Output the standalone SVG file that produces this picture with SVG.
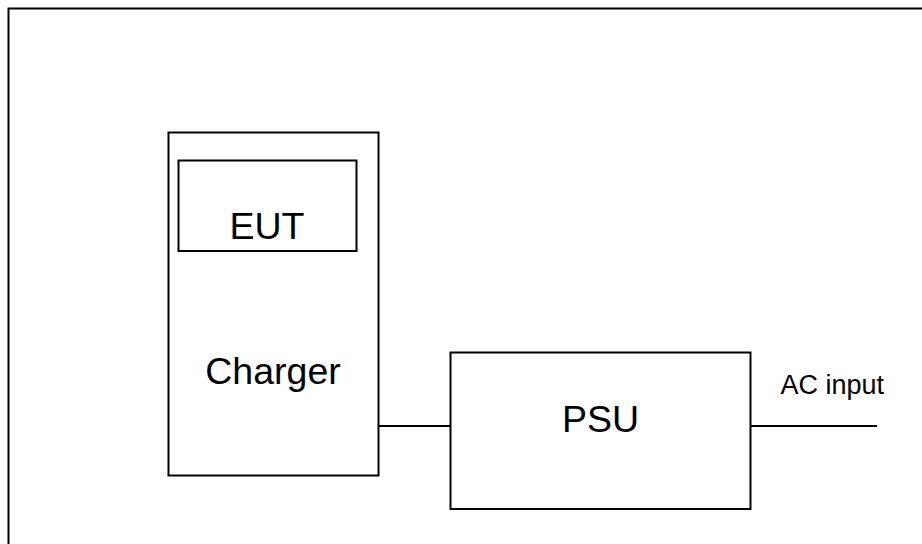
<svg xmlns="http://www.w3.org/2000/svg" width="922" height="544" viewBox="0 0 922 544">
<style>
.box{fill:none;stroke:#000;stroke-width:2}
.frame{fill:none;stroke:#000;stroke-width:2}
.wire{fill:none;stroke:#000;stroke-width:2}
.lbl{font-family:"Liberation Sans",Arial,sans-serif;font-size:37.5px;fill:#000}
.small{font-family:"Liberation Sans",Arial,sans-serif;font-size:27px;fill:#000}
</style>
<rect width="922" height="544" fill="#fff"/>
<g id="frame">
<path class="frame" d="M8.5,544 V8.5 H922"/>
</g>
<g id="charger">
<rect class="box" x="168.5" y="132.5" width="210" height="343"/>
<text class="lbl" x="273" y="384" text-anchor="middle">Charger</text>
</g>
<g id="eut">
<rect class="box" x="178.5" y="160.5" width="178" height="90.5"/>
<text class="lbl" x="267" y="239" text-anchor="middle">EUT</text>
</g>
<g id="psu">
<rect class="box" x="450.5" y="352.5" width="300" height="156.5"/>
<text class="lbl" x="600.5" y="431.5" text-anchor="middle">PSU</text>
</g>
<g id="connectors">
<line class="wire" x1="378.5" y1="426" x2="450.5" y2="426"/>
<line class="wire" x1="750.5" y1="426" x2="877" y2="426"/>
</g>
<g id="ac-label">
<text class="small" x="780.5" y="394">AC input</text>
</g>
</svg>
